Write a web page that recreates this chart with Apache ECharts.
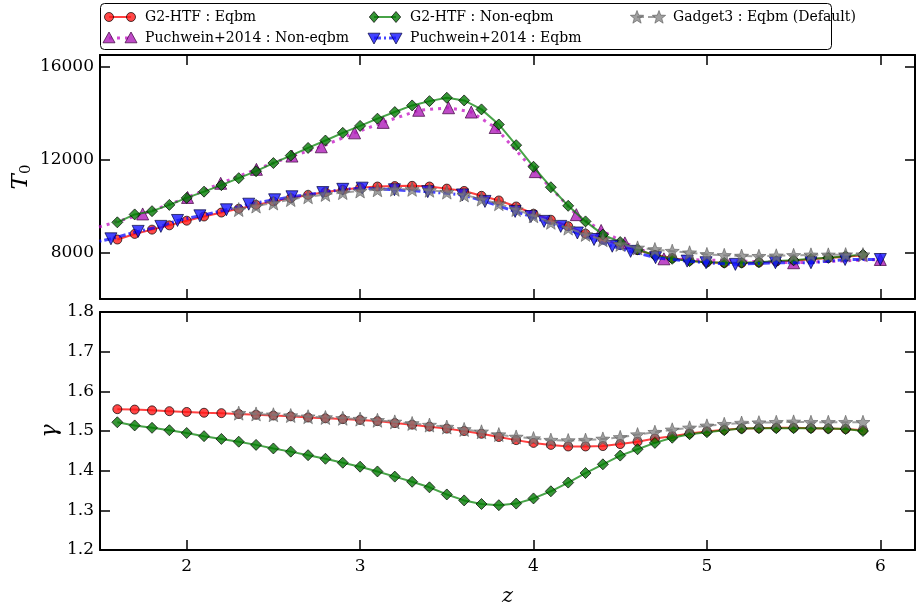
<!DOCTYPE html>
<html>
<head>
<meta charset="utf-8">
<script src="https://cdn.jsdelivr.net/npm/echarts@6/dist/echarts.min.js"></script>
<style>
  html, body { margin: 0; padding: 0; background: #ffffff; }
  #chart { width: 916px; height: 608px; }
</style>
</head>
<body>
<div id="chart"></div>
<script>
// ---- Redshift grids ----
const zG2 = [1.6, 1.7, 1.8, 1.9, 2.0, 2.1, 2.2, 2.3, 2.4, 2.5, 2.6, 2.7, 2.8, 2.9, 3.0,
  3.1, 3.2, 3.3, 3.4, 3.5, 3.6, 3.7, 3.8, 3.9, 4.0, 4.1, 4.2, 4.3, 4.4, 4.5,
  4.6, 4.7, 4.8, 4.9, 5.0, 5.1, 5.2, 5.3, 5.4, 5.5, 5.6, 5.7, 5.8, 5.9];
const zGadget = [2.3, 2.4, 2.5, 2.6, 2.7, 2.8, 2.9, 3.0, 3.1, 3.2, 3.3, 3.4, 3.5, 3.6,
  3.7, 3.8, 3.9, 4.0, 4.1, 4.2, 4.3, 4.4, 4.5, 4.6, 4.7, 4.8, 4.9, 5.0, 5.1,
  5.2, 5.3, 5.4, 5.5, 5.6, 5.7, 5.8, 5.9];
const zPuchNeq = [1.45, 1.746, 2.005, 2.196, 2.402, 2.607, 2.776, 2.968, 3.133, 3.338,
  3.51, 3.641, 3.779, 4.01, 4.247, 4.39, 4.527, 4.752, 5.5, 6.0];
const zPuchEq = [1.44, 1.563, 1.72, 1.851, 1.947, 2.076, 2.229, 2.358, 2.507, 2.607,
  2.785, 2.9, 3.012, 3.198, 3.39, 3.59, 3.72, 3.894, 3.985, 4.061, 4.157, 4.253,
  4.349, 4.454, 4.56, 4.704, 4.886, 4.995, 5.164, 5.395, 5.6, 5.797, 6.0];

// ---- Temperature at mean density, T0 [K] ----
const t0G2Eq = [8560, 8800, 8985, 9170, 9370, 9550, 9720, 9880, 10050, 10195, 10340,
  10480, 10600, 10700, 10790, 10840, 10860, 10870, 10840, 10750, 10650, 10440,
  10240, 9980, 9670, 9410, 9130, 8810, 8560, 8330, 8100, 7900, 7760, 7650, 7580,
  7550, 7550, 7570, 7610, 7650, 7710, 7760, 7820, 7880];
const t0G2Neq = [9300, 9640, 9780, 10050, 10350, 10620, 10900, 11200, 11500, 11850,
  12170, 12500, 12820, 13150, 13450, 13760, 14045, 14330, 14515, 14660, 14545,
  14160, 13510, 12620, 11690, 10810, 10010, 9340, 8770, 8450, 8130, 7870, 7730,
  7630, 7585, 7560, 7560, 7585, 7630, 7670, 7730, 7770, 7840, 7910];
const t0Gadget = [9850, 10000, 10130, 10280, 10400, 10500, 10580, 10650, 10700, 10720,
  10720, 10680, 10600, 10480, 10300, 10100, 9850, 9580, 9300, 9050, 8780, 8550,
  8350, 8200, 8130, 8060, 7990, 7920, 7880, 7850, 7840, 7860, 7880, 7900, 7900,
  7910, 7910];
const t0PuchNeq = [9000, 9660, 10370, 10980, 11580, 12150, 12550, 13150, 13600, 14120,
  14230, 14045, 13380, 11480, 9630, 8950, 8415, 7730, 7560, 7700];
const t0PuchEq = [8400, 8590, 8910, 9125, 9380, 9580, 9840, 10080, 10270, 10400, 10580,
  10720, 10770, 10700, 10620, 10480, 10200, 9770, 9550, 9340, 9125, 8840, 8560,
  8270, 8050, 7780, 7630, 7560, 7490, 7560, 7560, 7700, 7700];

// ---- Slope of the temperature-density relation, gamma ----
const gammaG2Eq = [1.555, 1.554, 1.552, 1.550, 1.548, 1.546, 1.545, 1.543, 1.541, 1.539,
  1.537, 1.534, 1.532, 1.530, 1.528, 1.525, 1.520, 1.516, 1.511, 1.506, 1.500,
  1.493, 1.485, 1.477, 1.470, 1.465, 1.461, 1.461, 1.462, 1.467, 1.473, 1.481,
  1.487, 1.494, 1.499, 1.503, 1.506, 1.507, 1.508, 1.508, 1.507, 1.506, 1.505, 1.502];
const gammaG2Neq = [1.522, 1.514, 1.508, 1.502, 1.495, 1.487, 1.480, 1.473, 1.465, 1.456,
  1.448, 1.439, 1.430, 1.420, 1.410, 1.398, 1.385, 1.372, 1.358, 1.340, 1.325,
  1.316, 1.313, 1.317, 1.330, 1.348, 1.370, 1.394, 1.416, 1.438, 1.454, 1.470,
  1.483, 1.492, 1.497, 1.502, 1.506, 1.507, 1.507, 1.507, 1.507, 1.506, 1.505, 1.500];
const gammaGadget = [1.545, 1.543, 1.541, 1.539, 1.536, 1.534, 1.532, 1.530, 1.527, 1.523,
  1.519, 1.515, 1.510, 1.504, 1.498, 1.491, 1.485, 1.481, 1.477, 1.476, 1.477,
  1.480, 1.484, 1.491, 1.497, 1.503, 1.508, 1.513, 1.517, 1.520, 1.521, 1.522,
  1.523, 1.522, 1.522, 1.522, 1.522];

// ---- Axis ticks ----
const zTicks = [2, 3, 4, 5, 6];
const t0Ticks = [8000, 12000, 16000];
const gammaTicks = [1.2, 1.3, 1.4, 1.5, 1.6, 1.7, 1.8];

// ---- Series appearance ----
const SERIF = 'DejaVu Serif';
function starPath() {
  let d = '';
  for (let k = 0; k < 10; k++) {
    const r = k % 2 === 0 ? 1 : 0.42;
    const a = -Math.PI / 2 + k * Math.PI / 5;
    d += (k === 0 ? 'M' : 'L') + (r * Math.cos(a)).toFixed(4) + ' ' + (r * Math.sin(a)).toFixed(4) + ' ';
  }
  return d + 'Z';
}
const STAR = 'path://' + starPath();

const styles = {
  g2eq:   { name: 'G2-HTF : Eqbm', line: 'rgba(255,0,0,0.75)', fill: 'rgba(255,20,20,0.78)', edge: 'rgba(0,0,0,0.7)', dash: 'solid', width: 2, symbol: 'circle', size: 9, rot: 0 },
  g2neq:  { name: 'G2-HTF : Non-eqbm', line: 'rgba(0,128,0,0.72)', fill: 'rgba(0,120,0,0.78)', edge: 'rgba(0,0,0,0.7)', dash: 'solid', width: 2, symbol: 'diamond', size: 11, rot: 0 },
  puchNeq:{ name: 'Puchwein+2014 : Non-eqbm', line: 'rgba(191,0,191,0.7)', fill: 'rgba(175,30,185,0.8)', edge: 'rgba(60,0,60,0.7)', dash: [3, 5], width: 3, symbol: 'triangle', size: 12, rot: 0 },
  puchEq: { name: 'Puchwein+2014 : Eqbm', line: 'rgba(0,0,255,0.72)', fill: 'rgba(20,20,255,0.8)', edge: 'rgba(0,0,60,0.7)', dash: [7, 3, 2, 3], width: 3, symbol: 'triangle', size: 12, rot: 180 },
  gadget: { name: 'Gadget3 : Eqbm (Default)', line: 'rgba(128,128,128,0.75)', fill: 'rgba(120,120,120,0.7)', edge: 'rgba(90,90,90,0.6)', dash: [7, 4], width: 2, symbol: STAR, size: 14, rot: 0 }
};

function pairs(xs, ys) { return xs.map((x, i) => [x, ys[i]]); }

function lineSeries(st, xs, ys, xIdx, yIdx, z) {
  return {
    type: 'line', name: st.name, xAxisIndex: xIdx, yAxisIndex: yIdx,
    data: pairs(xs, ys), z: z, clip: true, animation: false, silent: true,
    symbol: st.symbol, symbolSize: st.size, symbolRotate: st.rot, showSymbol: true,
    lineStyle: { color: st.line, width: st.width, type: st.dash },
    itemStyle: { color: st.fill, borderColor: st.edge, borderWidth: 1 },
    emphasis: { disabled: true }
  };
}

// ---- Layout ----
const L = 100, W = 815;
const topGrid = { left: L, top: 55, width: W, height: 244 };
const botGrid = { left: L, top: 312, width: W, height: 244 };

const spine = { show: true, onZero: false, lineStyle: { color: '#000', width: 2 } };
function xAx(grid, pos, labels) {
  return {
    type: 'value', gridIndex: grid, position: pos, min: 1.5, max: 6.2,
    axisLine: spine,
    axisTick: { show: true, inside: true, length: 10, customValues: zTicks, lineStyle: { color: '#000', width: 1.5 } },
    axisLabel: labels ? { show: true, customValues: zTicks, color: '#000', fontFamily: SERIF, fontSize: 17, margin: 8 } : { show: false },
    splitLine: { show: false },
    name: labels ? 'z' : '', nameLocation: 'middle', nameGap: 36, nameMoveOverlap: false,
    nameTextStyle: { fontFamily: SERIF, fontStyle: 'italic', fontSize: 21, color: '#000' }
  };
}
function yAx(grid, pos, min, max, ticks, labels, fmt, name, nameGap, nameStyle) {
  return {
    type: 'value', gridIndex: grid, position: pos, min: min, max: max,
    axisLine: spine,
    axisTick: { show: true, inside: true, length: 10, customValues: ticks, lineStyle: { color: '#000', width: 1.5 } },
    axisLabel: labels ? { show: true, customValues: ticks, color: '#000', fontFamily: SERIF, fontSize: 17, margin: 6, formatter: fmt } : { show: false },
    splitLine: { show: false },
    name: labels ? name : '', nameLocation: 'middle', nameRotate: 90, nameGap: nameGap,
    nameMoveOverlap: false,
    nameTextStyle: nameStyle
  };
}

const t0Name = '{t|T}{s|0}';
const t0NameStyle = {
  color: '#000',
  rich: {
    t: { fontFamily: SERIF, fontStyle: 'italic', fontSize: 23, color: '#000' },
    s: { fontFamily: SERIF, fontSize: 15, color: '#000', padding: [10, 0, 0, 0] }
  }
};
const gammaNameStyle = { fontFamily: SERIF, fontStyle: 'italic', fontSize: 22, color: '#000' };

const option = {
  backgroundColor: '#ffffff',
  animation: false,
  grid: [topGrid, botGrid],
  xAxis: [xAx(0, 'bottom', false), xAx(0, 'top', false), xAx(1, 'bottom', true), xAx(1, 'top', false)],
  yAxis: [
    yAx(0, 'left', 6000, 16500, t0Ticks, true, v => String(v), t0Name, 66, t0NameStyle),
    yAx(0, 'right', 6000, 16500, t0Ticks, false),
    yAx(1, 'left', 1.2, 1.8, gammaTicks, true, v => v.toFixed(1), '\u03b3', 39, gammaNameStyle),
    yAx(1, 'right', 1.2, 1.8, gammaTicks, false)
  ],
  series: [
    lineSeries(styles.g2eq, zG2, t0G2Eq, 0, 0, 2),
    lineSeries(styles.puchNeq, zPuchNeq, t0PuchNeq, 0, 0, 3),
    lineSeries(styles.g2neq, zG2, t0G2Neq, 0, 0, 4),
    lineSeries(styles.puchEq, zPuchEq, t0PuchEq, 0, 0, 5),
    lineSeries(styles.gadget, zGadget, t0Gadget, 0, 0, 6),
    lineSeries(styles.g2eq, zG2, gammaG2Eq, 2, 2, 2),
    lineSeries(styles.g2neq, zG2, gammaG2Neq, 2, 2, 4),
    lineSeries(styles.gadget, zGadget, gammaGadget, 2, 2, 6)
  ]
};

// ---- Legend box (two markers joined by the series line) ----
function markerShape(st, cx, cy) {
  const common = { style: { fill: st.fill, stroke: st.edge, lineWidth: 1 } };
  if (st.symbol === 'circle') return Object.assign({ type: 'circle', shape: { cx: cx, cy: cy, r: st.size / 2 } }, common);
  let pts;
  const h = st.size / 2;
  if (st.symbol === 'diamond') pts = [[cx, cy - h], [cx + h * 0.85, cy], [cx, cy + h], [cx - h * 0.85, cy]];
  else if (st.symbol === 'triangle' && st.rot === 0) pts = [[cx, cy - h], [cx + h, cy + h * 0.8], [cx - h, cy + h * 0.8]];
  else if (st.symbol === 'triangle') pts = [[cx, cy + h], [cx + h, cy - h * 0.8], [cx - h, cy - h * 0.8]];
  else {
    pts = [];
    for (let k = 0; k < 10; k++) {
      const r = (k % 2 === 0 ? 1 : 0.42) * h;
      const a = -Math.PI / 2 + k * Math.PI / 5;
      pts.push([cx + r * Math.cos(a), cy + r * Math.sin(a) + 0.5]);
    }
  }
  return Object.assign({ type: 'polygon', shape: { points: pts } }, common);
}

const legendCols = [105, 370, 633];
const legendRows = [17, 38];
const legendLayout = [
  { st: styles.g2eq, c: 0, r: 0 },
  { st: styles.puchNeq, c: 0, r: 1 },
  { st: styles.g2neq, c: 1, r: 0 },
  { st: styles.puchEq, c: 1, r: 1 },
  { st: styles.gadget, c: 2, r: 0 }
];
const graphics = [{
  type: 'rect', shape: { x: 100.5, y: 3.5, width: 731, height: 46, r: 4 },
  style: { fill: '#fff', stroke: '#000', lineWidth: 1 }, z: 10
}];
legendLayout.forEach(it => {
  const x0 = legendCols[it.c], y = legendRows[it.r];
  graphics.push({
    type: 'line', shape: { x1: x0 + 4, y1: y, x2: x0 + 26, y2: y }, z: 11,
    style: { stroke: it.st.line, lineWidth: it.st.width, lineDash: Array.isArray(it.st.dash) ? it.st.dash : null }
  });
  const m1 = markerShape(it.st, x0 + 4, y); m1.z = 12; graphics.push(m1);
  const m2 = markerShape(it.st, x0 + 26, y); m2.z = 12; graphics.push(m2);
  graphics.push({
    type: 'text', x: x0 + 40, y: y, z: 12,
    style: { text: it.st.name, fontFamily: SERIF, fontSize: 14, fill: '#000', verticalAlign: 'middle', align: 'left' }
  });
});
option.graphic = graphics;

const chart = echarts.init(document.getElementById('chart'), null, { renderer: 'canvas' });
chart.setOption(option);
</script>
</body>
</html>
